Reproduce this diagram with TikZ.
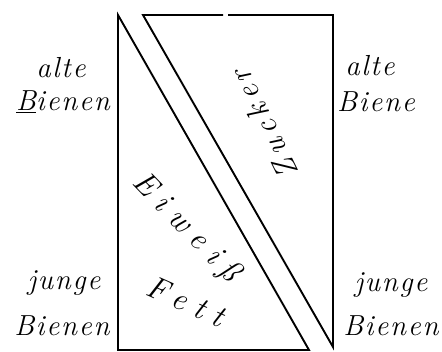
\documentclass[tikz,border=0pt]{standalone}
\usepackage{fontspec}
\setmainfont{Latin Modern Roman}
\newfontfamily\handA[LetterSpace=6]{Latin Modern Roman}
\newfontfamily\handB[LetterSpace=30]{Latin Modern Roman}
\newfontfamily\handC[LetterSpace=18]{Latin Modern Roman}
\begin{document}
\begin{tikzpicture}[x=1pt,y=1pt,
  edge/.style={line width=1.9pt,line join=miter},
  lab/.style={font=\handA\fontsize{29}{31}\selectfont\itshape, inner sep=0pt},
  big/.style={font=\handB\fontsize{32}{34}\selectfont\itshape, inner sep=0pt},
  mid/.style={font=\handC\fontsize{31}{33}\selectfont\itshape, inner sep=0pt}]
\useasboundingbox (0,0) rectangle (442,352);
% left triangle
\coordinate (A) at (118,337);
\coordinate (B) at (118,2);
\coordinate (C) at (309,2);
\draw[edge] (A) -- (B) -- (C) -- cycle;
% right triangle
\coordinate (D) at (143,337);
\coordinate (G1) at (223,337);
\coordinate (G2) at (228,337);
\coordinate (E) at (333,337);
\coordinate (F) at (333,5);
\draw[edge] (G2) -- (E) -- (F) -- (D) -- (G1);
% inner texts
\node[mid, rotate=116] (zucker) at (264,228) {Zucker};
\node[big, rotate=-46] (eiweiss) at (186,124) {Eiweiß};
\node[big, rotate=-24] (fett) at (186,51) {Fett};
% side labels
\node[lab] (la1) at (61,284) {alte};
\node[lab] (lb1) at (63,250) {\underline{B}ienen};
\node[lab] (la2) at (64,69) {junge};
\node[lab] (lb2) at (62,26) {Bienen};
\node[lab] (ra1) at (370,286) {alte};
\node[lab] (rb1) at (376,250) {Biene};
\node[lab] (ra2) at (391,67) {junge};
\node[lab] (rb2) at (391,26) {Bienen};
\end{tikzpicture}
\end{document}
